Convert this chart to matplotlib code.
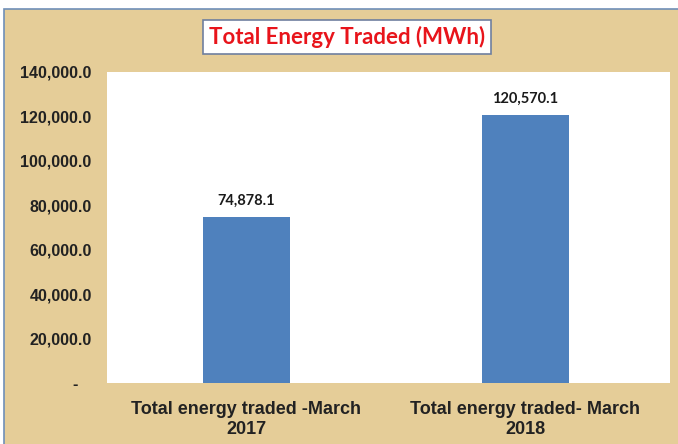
import matplotlib.pyplot as plt
from matplotlib.patches import Rectangle
from matplotlib.ticker import FuncFormatter

# --- Data ---
categories = ["Total energy traded -March\n2017", "Total energy traded- March\n2018"]
energy_mwh = [74878.1, 120570.1]
yticks = [0, 20000, 40000, 60000, 80000, 100000, 120000, 140000]

parchment = "#E5CD98"
bar_blue = "#4F81BD"

fig = plt.figure(figsize=(6.78, 4.44), dpi=100)
fig.patch.set_facecolor("white")

# parchment frame with thin blue border on top/left
fig.patches.append(Rectangle((4 / 678, -0.05), 1, 1.05 - 9 / 444, transform=fig.transFigure,
                             facecolor=parchment, edgecolor="#6F8FB8", linewidth=1.2,
                             zorder=-5))

ax = fig.add_axes([107 / 678, 61 / 444, 563 / 678, 311 / 444])
ax.set_facecolor("white")

x = range(len(categories))
ax.bar(x, energy_mwh, width=0.312, color=bar_blue, zorder=2)

for xi, v in zip(x, energy_mwh):
    ax.annotate(f"{v:,.1f}", (xi, v), xytext=(0, 11.5), textcoords="offset points",
                ha="center", va="center", fontsize=10.5, fontweight="bold",
                family="Lato", color="#1a1a1a")

ax.set_xlim(-0.5, 1.518)
ax.set_ylim(0, 140000)
ax.set_yticks(yticks)
ax.yaxis.set_major_formatter(FuncFormatter(lambda v, p: "-   " if v == 0 else f"{v:,.1f}"))
ax.set_xticks(list(x))
ax.set_xticklabels(categories)

for lab in ax.get_yticklabels():
    lab.set_fontfamily("Liberation Sans")
    lab.set_fontweight("bold")
    lab.set_fontsize(11.5)
    lab.set_color("#222222")
for lab in ax.get_xticklabels():
    lab.set_fontfamily("Liberation Sans")
    lab.set_fontweight("bold")
    lab.set_fontsize(13)
    lab.set_color("#222222")
    lab.set_linespacing(1.25)

ax.tick_params(axis="y", length=0, pad=11)
ax.tick_params(axis="x", length=0, pad=13)
for s in ax.spines.values():
    s.set_visible(False)

fig.text(347 / 678, 1 - 37 / 444, "Total Energy Traded (MWh)", ha="center", va="center",
         fontsize=16, fontweight="bold", color="#E8141B", family="Lato",
         bbox=dict(boxstyle="square,pad=0.25", facecolor="white", edgecolor="#6F7F9F",
                   linewidth=1.2))

fig.savefig("out.png", dpi=100, facecolor=fig.get_facecolor())
